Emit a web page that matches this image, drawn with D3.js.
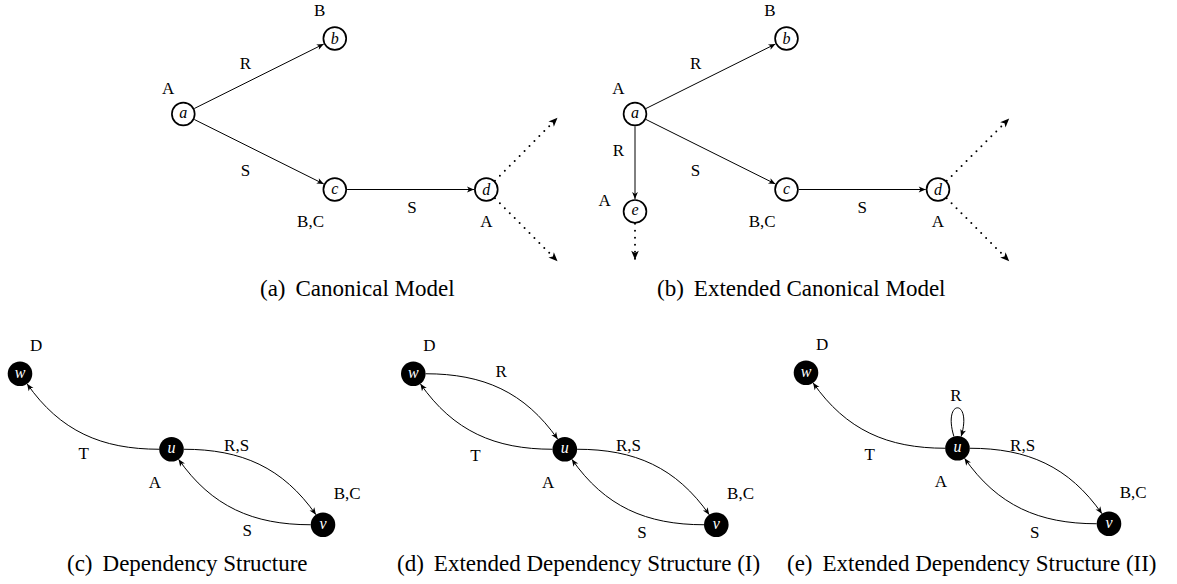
<!DOCTYPE html>
<html><head><meta charset="utf-8">
<script src="https://cdn.jsdelivr.net/npm/d3@7"></script>
<style>
html,body{margin:0;padding:0;background:#fff;}
svg{display:block;}
text{fill:#000;}
</style></head><body>
<svg id="chart" width="1177" height="584"></svg>
<script>
// ---------------- DATA ----------------
const captionTags = ["(a)", "(b)", "(c)", "(d)", "(e)"];
const captionTexts = ["Canonical Model", "Extended Canonical Model", "Dependency Structure",
  "Extended Dependency Structure (I)", "Extended Dependency Structure (II)"];

// nodes: id, position in grid units (x, y up), set label, set-label position (grid units)
const nodesA = [
  {id: "a", x: 0, y: 0, set: "A", lx: -0.10, ly: 0.34},
  {id: "b", x: 1, y: 1, set: "B", lx: 0.90, ly: 1.38},
  {id: "c", x: 1, y: -1, set: "B,C", lx: 0.84, ly: -1.42},
  {id: "d", x: 2, y: -1, set: "A", lx: 2.0, ly: -1.42}
];
const edgesA = [
  {from: "a", to: "b", label: "R", lx: 0.41, ly: 0.68},
  {from: "a", to: "c", label: "S", lx: 0.41, ly: -0.74},
  {from: "c", to: "d", label: "S", lx: 1.51, ly: -1.23},
  {from: "d", tx: 2.47, ty: -0.05, dotted: true},
  {from: "d", tx: 2.47, ty: -1.95, dotted: true}
];
const nodesB = [
  {id: "a", x: 0, y: 0, set: "A", lx: -0.11, ly: 0.34},
  {id: "b", x: 1, y: 1, set: "B", lx: 0.89, ly: 1.38},
  {id: "c", x: 1, y: -1, set: "B,C", lx: 0.84, ly: -1.42},
  {id: "d", x: 2, y: -1, set: "A", lx: 2.0, ly: -1.42},
  {id: "e", x: 0, y: -1.29, set: "A", lx: -0.20, ly: -1.14}
];
const edgesB = [
  {from: "a", to: "b", label: "R", lx: 0.40, ly: 0.68},
  {from: "a", to: "c", label: "S", lx: 0.40, ly: -0.74},
  {from: "a", to: "e", label: "R", lx: -0.11, ly: -0.48},
  {from: "c", to: "d", label: "S", lx: 1.50, ly: -1.23},
  {from: "d", tx: 2.47, ty: -0.06, dotted: true},
  {from: "d", tx: 2.47, ty: -1.95, dotted: true},
  {from: "e", tx: 0, ty: -1.93, dotted: true}
];
const nodesC = [
  {id: "w", x: 0, y: 1, set: "D", lx: 0.106, ly: 1.38},
  {id: "u", x: 1, y: 0, set: "A", lx: 0.89, ly: -0.43},
  {id: "v", x: 2, y: -1, set: "B,C", lx: 2.16, ly: -0.58}
];
const edgesC = [
  {from: "u", to: "w", label: "T", lx: 0.42, ly: -0.05, out: 180, in: -55},
  {from: "u", to: "v", label: "R,S", lx: 1.43, ly: 0.06, out: 0, in: 125},
  {from: "v", to: "u", label: "S", lx: 1.50, ly: -1.07, out: 180, in: -55}
];
const nodesD = nodesC.map(n => Object.assign({}, n));
const edgesD = [
  {from: "w", to: "u", label: "R", lx: 0.58, ly: 1.03, out: 0, in: 125},
  {from: "u", to: "w", label: "T", lx: 0.41, ly: -0.08, out: 180, in: -55},
  {from: "u", to: "v", label: "R,S", lx: 1.42, ly: 0.06, out: 0, in: 125},
  {from: "v", to: "u", label: "S", lx: 1.51, ly: -1.10, out: 180, in: -55}
];
const nodesE = nodesC.map(n => Object.assign({}, n));
const edgesE = [
  {from: "u", to: "u", label: "R", lx: 0.99, ly: 0.71, loop: true},
  {from: "u", to: "w", label: "T", lx: 0.42, ly: -0.08, out: 180, in: -55},
  {from: "u", to: "v", label: "R,S", lx: 1.43, ly: 0.04, out: 0, in: 125},
  {from: "v", to: "u", label: "S", lx: 1.51, ly: -1.11, out: 180, in: -55}
];

// ---------------- LAYOUT / STYLE ----------------
const panels = [
  {nodes: nodesA, edges: edgesA, filled: false, x0: 183.3, y0: 114},
  {nodes: nodesB, edges: edgesB, filled: false, x0: 635, y0: 114},
  {nodes: nodesC, edges: edgesC, filled: true, x0: 20, y0: 449.25},
  {nodes: nodesD, edges: edgesD, filled: true, x0: 413.3, y0: 449.25},
  {nodes: nodesE, edges: edgesE, filled: true, x0: 806, y0: 448.25}
];
const captionX = [260, 657, 67, 397, 787];
const captionY = [296, 296, 571, 571, 571];
const UNIT_X = 151.5, UNIT_Y = 75.5;
const R_OPEN = 11.4, R_FILL = 12.3, R_OUT = 12.3;
const SERIF = "'Liberation Serif', Tinos, 'Times New Roman', Times, 'DejaVu Serif', serif";

const svg = d3.select("#chart");
const defs = svg.append("defs");
function addMarker(id, len, half, notch) {
  defs.append("marker").attr("id", id)
    .attr("viewBox", `${-len - 1} ${-half - 1} ${len + 2} ${2 * half + 2}`)
    .attr("refX", 0).attr("refY", 0)
    .attr("markerWidth", len + 2).attr("markerHeight", 2 * half + 2)
    .attr("markerUnits", "userSpaceOnUse").attr("orient", "auto")
    .append("path")
    .attr("d", `M0,0 L${-len},${-half} L${-len + notch},0 L${-len},${half} Z`)
    .attr("fill", "#000").attr("stroke", "none");
}
addMarker("arr", 7, 2.9, 1.8);
addMarker("arrBig", 9, 3.8, 2.4);

const dir = a => [Math.cos(a * Math.PI / 180), -Math.sin(a * Math.PI / 180)];

function txt(sel, x, y, size) {
  return sel.append("text").attr("x", x).attr("y", y)
    .attr("font-family", SERIF).style("font-family", SERIF).attr("font-size", size);
}

panels.forEach((P, i) => {
  const sx = d3.scaleLinear().domain([0, 1]).range([P.x0, P.x0 + UNIT_X]);
  const sy = d3.scaleLinear().domain([0, 1]).range([P.y0, P.y0 - UNIT_Y]);
  const g = svg.append("g");
  const nm = new Map(P.nodes.map(n => [n.id, {cx: sx(n.x), cy: sy(n.y)}]));

  const gEdges = g.append("g");
  P.edges.forEach(e => {
    const s = nm.get(e.from);
    let d;
    if (e.loop) {
      const o = dir(107), n = dir(73), k = 40;
      const p0 = [s.cx + R_OUT * o[0], s.cy + R_OUT * o[1]];
      const p3 = [s.cx + R_OUT * n[0], s.cy + R_OUT * n[1]];
      const path = d3.path();
      path.moveTo(p0[0], p0[1]);
      path.bezierCurveTo(p0[0] + k * o[0], p0[1] + k * o[1], p3[0] + k * n[0], p3[1] + k * n[1], p3[0], p3[1]);
      d = path.toString();
    } else if (e.to !== undefined && e.out !== undefined) {
      const t = nm.get(e.to);
      const o = dir(e.out), n = dir(e.in);
      const p0 = [s.cx + R_OUT * o[0], s.cy + R_OUT * o[1]];
      const p3 = [t.cx + R_OUT * n[0], t.cy + R_OUT * n[1]];
      const k = 0.3915 * Math.hypot(p3[0] - p0[0], p3[1] - p0[1]);
      const path = d3.path();
      path.moveTo(p0[0], p0[1]);
      path.bezierCurveTo(p0[0] + k * o[0], p0[1] + k * o[1], p3[0] + k * n[0], p3[1] + k * n[1], p3[0], p3[1]);
      d = path.toString();
    } else {
      let tx, ty, rEnd;
      if (e.to !== undefined) { const t = nm.get(e.to); tx = t.cx; ty = t.cy; rEnd = R_OUT; }
      else { tx = sx(e.tx); ty = sy(e.ty); rEnd = 0; }
      const L = Math.hypot(tx - s.cx, ty - s.cy), ux = (tx - s.cx) / L, uy = (ty - s.cy) / L;
      const path = d3.path();
      path.moveTo(s.cx + ux * R_OUT, s.cy + uy * R_OUT);
      path.lineTo(tx - ux * rEnd, ty - uy * rEnd);
      d = path.toString();
    }
    const p = gEdges.append("path").attr("d", d).attr("fill", "none").attr("stroke", "#000");
    if (e.dotted) {
      p.attr("stroke-width", 2).attr("stroke-dasharray", "0 7").attr("stroke-linecap", "round")
        .attr("marker-end", "url(#arrBig)");
    } else {
      p.attr("stroke-width", 1).attr("marker-end", "url(#arr)");
    }
    if (e.label) {
      txt(g, sx(e.lx), sy(e.ly), 17).attr("dy", "0.35em")
        .attr("text-anchor", "middle").text(e.label);
    }
  });

  const gNodes = g.append("g");
  P.nodes.forEach(n => {
    const c = nm.get(n.id);
    if (P.filled) {
      gNodes.append("circle").attr("cx", c.cx).attr("cy", c.cy).attr("r", R_FILL).attr("fill", "#000");
    } else {
      gNodes.append("circle").attr("cx", c.cx).attr("cy", c.cy).attr("r", R_OPEN)
        .attr("fill", "#fff").attr("stroke", "#000").attr("stroke-width", 1.7);
    }
    txt(gNodes, c.cx, c.cy, 16)
      .attr("dy", (n.id === "b" || n.id === "d") ? "0.33em" : "0.25em")
      .attr("text-anchor", "middle").attr("font-style", "italic")
      .style("fill", P.filled ? "#fff" : "#000").text(n.id);
    txt(gNodes, sx(n.lx), sy(n.ly), 17).attr("dy", "0.35em")
      .attr("text-anchor", "middle").text(n.set);
  });

  const cap = txt(svg, captionX[i], captionY[i], 23);
  cap.append("tspan").text(captionTags[i]);
  cap.append("tspan").attr("dx", 10).text(captionTexts[i]);
});
</script>
</body></html>
